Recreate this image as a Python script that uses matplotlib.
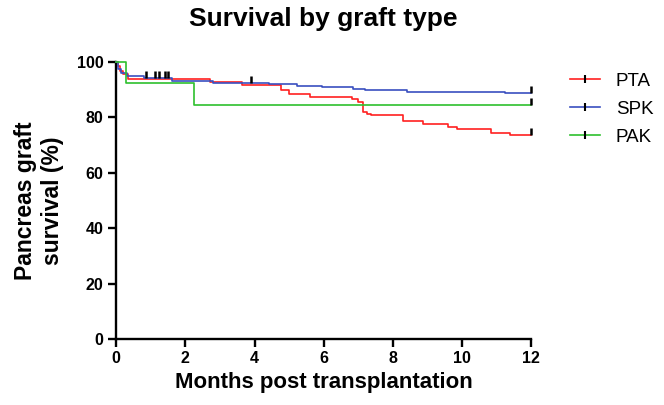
import matplotlib.pyplot as plt
import numpy as np
from matplotlib.lines import Line2D

plt.rcParams['font.family'] = ['Liberation Sans', 'DejaVu Sans']

# Kaplan-Meier curves (months, % survival), step after each time
pta_t = [0, 0.05, 0.12, 0.2, 0.35, 2.7, 3.63, 4.76, 5.0, 5.6, 6.82, 7.0, 7.15, 7.25, 7.37,
         8.3, 8.87, 9.6, 9.84, 10.85, 11.38, 12]
pta_s = [100, 98.5, 96.7, 95.6, 94.0, 92.9, 91.7, 89.7, 88.4, 87.5, 86.5, 85.4, 82.0, 81.3, 81.0,
         78.8, 77.7, 76.6, 75.8, 74.5, 73.6, 73.6]

spk_t = [0, 0.05, 0.15, 0.3, 0.8, 1.6, 2.79, 4.41, 5.24, 5.96, 6.86, 7.2, 8.4, 11.23, 12]
spk_s = [100, 97.5, 96.0, 95.1, 94.1, 93.3, 92.5, 91.9, 91.4, 90.9, 90.2, 89.9, 89.3, 88.7, 88.7]

pak_t = [0, 0.27, 2.25, 12]
pak_s = [100, 92.3, 84.6, 84.6]

# censored observations
pta_cens = [12]
spk_cens = [0.87, 1.12, 1.25, 1.4, 1.5, 3.9, 12]
pak_cens = [12]

labels = ['PTA', 'SPK', 'PAK']
colors = ['#ff2020', '#3a4fc0', '#2ec02e']


def surv_at(t, s, x):
    i = np.searchsorted(t, x, side='right') - 1
    return np.array(s)[i]


fig = plt.figure(figsize=(6.64, 4.05), dpi=100)
ax = fig.add_axes([0.175, 0.163, 0.625, 0.684])

series = [(pta_t, pta_s, pta_cens), (spk_t, spk_s, spk_cens), (pak_t, pak_s, pak_cens)]
for (t, s, c), col in zip(series, colors):
    ax.step(t, s, where='post', color=col, lw=1.2, clip_on=False, zorder=3)
for (t, s, c), col in zip(series, colors):
    ax.plot(c, surv_at(t, s, c), linestyle='none', marker=2, ms=5, mew=1.8,
            color='k', clip_on=False, zorder=4)

ax.set_xlim(0, 12)
ax.set_ylim(0, 100)
ax.set_xticks(range(0, 13, 2))
ax.set_yticks(range(0, 101, 20))
for sp in ['top', 'right']:
    ax.spines[sp].set_visible(False)
for sp in ['left', 'bottom']:
    ax.spines[sp].set_linewidth(1.7)
ax.tick_params(width=1.7, length=5.5, labelsize=11.5)
for lab in ax.get_xticklabels() + ax.get_yticklabels():
    lab.set_fontweight('bold')

ax.set_xlabel('Months post transplantation', fontsize=16, fontweight='bold', labelpad=4)
ax.set_ylabel('Pancreas graft\nsurvival (%)', fontsize=16.5, fontweight='bold', labelpad=9,
              linespacing=1.25)
fig.text(0.487, 0.952, 'Survival by graft type', fontsize=19, fontweight='bold',
         ha='center', va='center')

handles = [Line2D([], [], color=col, lw=1.2, marker='|', ms=6, mew=1.5, markeredgecolor='k')
           for col in colors]
fig.legend(handles, labels, loc='upper left', bbox_to_anchor=(0.833, 0.862), frameon=False,
           fontsize=13.5, numpoints=1, handlelength=1.6, labelspacing=0.58, handletextpad=0.85)

plt.savefig('out.png', dpi=100)
